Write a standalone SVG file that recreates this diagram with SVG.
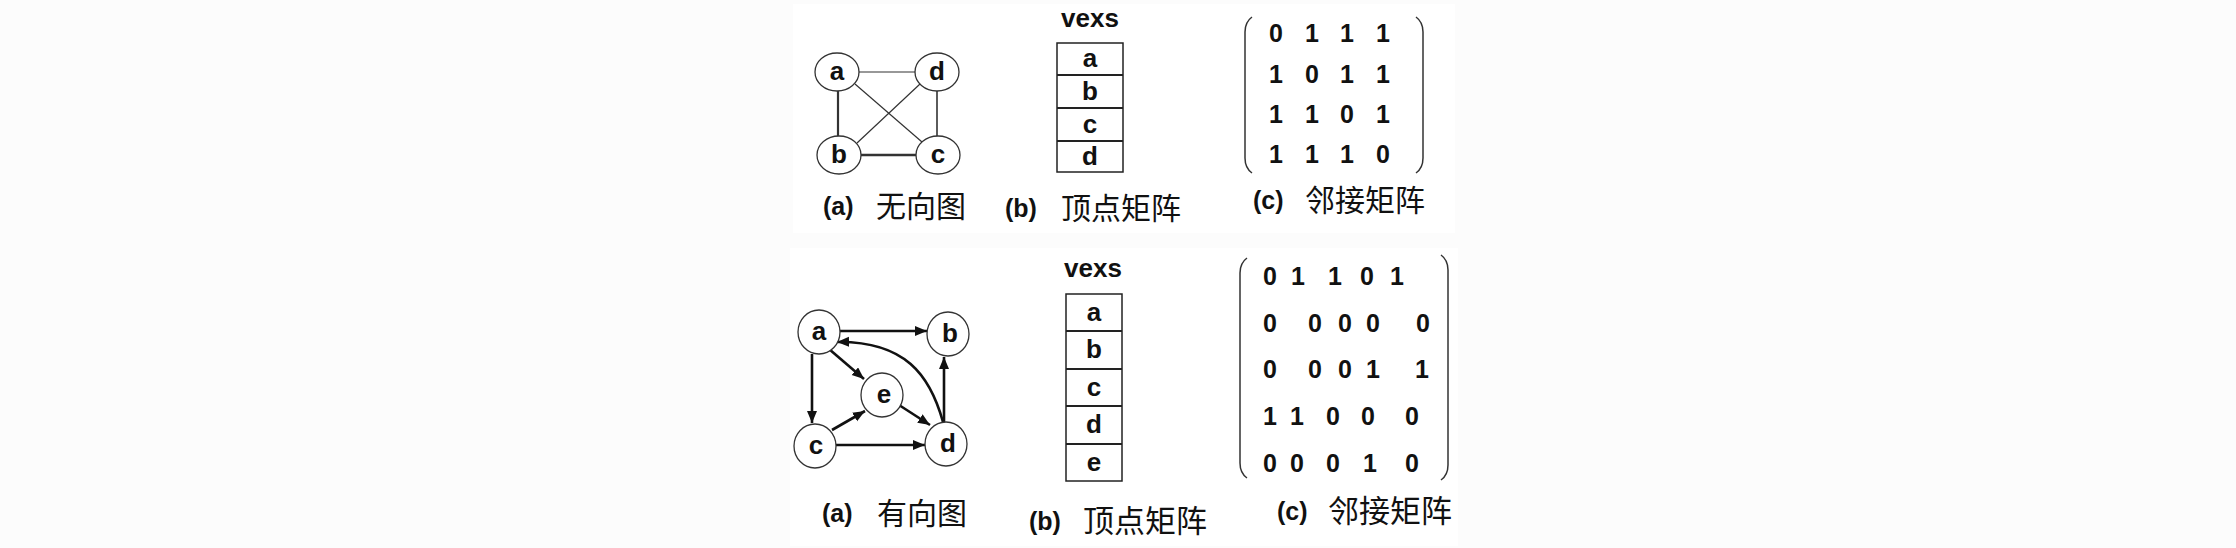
<svg xmlns="http://www.w3.org/2000/svg" width="2236" height="548" viewBox="0 0 2236 548">
<defs>
<style>
.bg{fill:#fcfcfc}
.panel{fill:#ffffff}
.node{fill:#ffffff;stroke:#333;stroke-width:1.3}
.nl{font-family:"Liberation Sans",Arial,sans-serif;font-weight:bold;font-size:26px;fill:#111;text-anchor:middle}
.dg{font-family:"Liberation Sans",Arial,sans-serif;font-weight:bold;font-size:25px;fill:#111;text-anchor:middle}
.par{font-family:"Liberation Sans",Arial,sans-serif;font-weight:bold;font-size:25px;fill:#111}
.cjk{font-family:"Noto Sans CJK SC","Noto Sans",sans-serif;font-size:30px;fill:#111}
.cell{fill:#ffffff;stroke:#222;stroke-width:1.5}
.div{stroke:#222;stroke-width:1.8}
.paren{fill:none;stroke:#333;stroke-width:1.5}
.e1{stroke:#333;fill:none}
.e2{stroke:#111;stroke-width:2.6;fill:none}
</style>
<marker id="arr" markerWidth="13" markerHeight="11" refX="12" refY="5" orient="auto" markerUnits="userSpaceOnUse">
<path d="M0,0 L12,5 L0,10 z" fill="#111"/>
</marker>
</defs>
<rect class="bg" x="0" y="0" width="2236" height="548"/>
<rect class="panel" x="793" y="4" width="662" height="229"/>
<rect class="panel" x="790" y="248" width="668" height="298"/>

<!-- Undirected graph -->
<g id="edges-undirected">
<line class="e1" x1="859" y1="72" x2="915" y2="72" stroke-width="1.2"/>
<line class="e1" x1="838" y1="91" x2="838" y2="136" stroke-width="2.2"/>
<line class="e1" x1="937" y1="91" x2="937" y2="136" stroke-width="1.6"/>
<line class="e1" x1="861" y1="155" x2="916" y2="155" stroke-width="2.4"/>
<line class="e1" x1="855" y1="84" x2="922" y2="142" stroke-width="1.2"/>
<line class="e1" x1="920" y1="84" x2="857" y2="143" stroke-width="1.2"/>
</g>
<g id="u-a"><ellipse class="node" cx="837" cy="72" rx="22" ry="19"/><text class="nl" x="837" y="80">a</text></g>
<g id="u-d"><ellipse class="node" cx="937" cy="72" rx="22" ry="19"/><text class="nl" x="937" y="80">d</text></g>
<g id="u-b"><ellipse class="node" cx="839" cy="155" rx="22" ry="19"/><text class="nl" x="839" y="163">b</text></g>
<g id="u-c"><ellipse class="node" cx="938" cy="155" rx="22" ry="19"/><text class="nl" x="938" y="163">c</text></g>

<!-- Vertex array 1 -->
<g id="vexs1">
<text class="nl" x="1090" y="27">vexs</text>
<rect class="cell" x="1057" y="43" width="66" height="129"/>
<line class="div" x1="1057" y1="75" x2="1123" y2="75"/>
<line class="div" x1="1057" y1="108" x2="1123" y2="108"/>
<line class="div" x1="1057" y1="141" x2="1123" y2="141"/>
<text class="nl" x="1090" y="67">a</text>
<text class="nl" x="1090" y="100">b</text>
<text class="nl" x="1090" y="133">c</text>
<text class="nl" x="1090" y="165">d</text>
</g>

<!-- Matrix 1 -->
<g id="matrix1">
<path class="paren" d="M1252,17 Q1245,22 1245,32 L1245,158 Q1245,168 1252,173"/>
<path class="paren" d="M1416,17 Q1423,22 1423,32 L1423,158 Q1423,168 1416,173"/>
<text class="dg" y="42"><tspan x="1276">0</tspan><tspan x="1312">1</tspan><tspan x="1347">1</tspan><tspan x="1383">1</tspan></text>
<text class="dg" y="83"><tspan x="1276">1</tspan><tspan x="1312">0</tspan><tspan x="1347">1</tspan><tspan x="1383">1</tspan></text>
<text class="dg" y="123"><tspan x="1276">1</tspan><tspan x="1312">1</tspan><tspan x="1347">0</tspan><tspan x="1383">1</tspan></text>
<text class="dg" y="163"><tspan x="1276">1</tspan><tspan x="1312">1</tspan><tspan x="1347">1</tspan><tspan x="1383">0</tspan></text>
</g>

<!-- Row 1 captions -->
<g id="cap1">
<text class="par" x="823" y="215">(a)</text><text class="cjk" x="876" y="217">无向图</text>
<text class="par" x="1005" y="217">(b)</text><text class="cjk" x="1061" y="219">顶点矩阵</text>
<text class="par" x="1253" y="209">(c)</text><text class="cjk" x="1305" y="211">邻接矩阵</text>
</g>

<!-- Directed graph -->
<g id="edges-directed">
<line class="e2" x1="840" y1="331" x2="927" y2="331" marker-end="url(#arr)"/>
<path class="e2" d="M943,422 C930,375 905,341 837,342" marker-end="url(#arr)"/>
<line class="e2" x1="829" y1="349" x2="864" y2="379" marker-end="url(#arr)"/>
<line class="e2" x1="812" y1="354" x2="812" y2="423" marker-end="url(#arr)"/>
<line class="e2" x1="832" y1="430" x2="865" y2="411" marker-end="url(#arr)"/>
<line class="e2" x1="899" y1="405" x2="930" y2="425" marker-end="url(#arr)"/>
<line class="e2" x1="836" y1="445" x2="925" y2="445" marker-end="url(#arr)"/>
<line class="e2" x1="944" y1="422" x2="944" y2="357" marker-end="url(#arr)"/>
</g>
<g id="d-a"><ellipse class="node" cx="819" cy="332" rx="21" ry="22"/><text class="nl" x="819" y="340">a</text></g>
<g id="d-b"><ellipse class="node" cx="948" cy="334" rx="21" ry="22"/><text class="nl" x="950" y="342">b</text></g>
<g id="d-e"><ellipse class="node" cx="882" cy="395" rx="21" ry="22"/><text class="nl" x="884" y="403">e</text></g>
<g id="d-c"><ellipse class="node" cx="815" cy="446" rx="21" ry="22"/><text class="nl" x="816" y="454">c</text></g>
<g id="d-d"><ellipse class="node" cx="946" cy="444" rx="21" ry="22"/><text class="nl" x="948" y="452">d</text></g>

<!-- Vertex array 2 -->
<g id="vexs2">
<text class="nl" x="1093" y="277">vexs</text>
<rect class="cell" x="1066" y="294" width="56" height="187"/>
<line class="div" x1="1066" y1="331" x2="1122" y2="331"/>
<line class="div" x1="1066" y1="369" x2="1122" y2="369" stroke-width="1"/>
<line class="div" x1="1066" y1="406" x2="1122" y2="406"/>
<line class="div" x1="1066" y1="444" x2="1122" y2="444"/>
<text class="nl" x="1094" y="321">a</text>
<text class="nl" x="1094" y="358">b</text>
<text class="nl" x="1094" y="396">c</text>
<text class="nl" x="1094" y="433">d</text>
<text class="nl" x="1094" y="471">e</text>
</g>

<!-- Matrix 2 -->
<g id="matrix2">
<path class="paren" d="M1247,258 Q1240,263 1240,273 L1240,463 Q1240,473 1247,478"/>
<path class="paren" d="M1441,255 Q1448,260 1448,270 L1448,465 Q1448,475 1441,480"/>
<text class="dg" y="285"><tspan x="1270">0</tspan><tspan x="1298">1</tspan><tspan x="1335">1</tspan><tspan x="1367">0</tspan><tspan x="1397">1</tspan></text>
<text class="dg" y="332"><tspan x="1270">0</tspan><tspan x="1315">0</tspan><tspan x="1345">0</tspan><tspan x="1373">0</tspan><tspan x="1423">0</tspan></text>
<text class="dg" y="378"><tspan x="1270">0</tspan><tspan x="1315">0</tspan><tspan x="1345">0</tspan><tspan x="1373">1</tspan><tspan x="1422">1</tspan></text>
<text class="dg" y="425"><tspan x="1270">1</tspan><tspan x="1297">1</tspan><tspan x="1333">0</tspan><tspan x="1368">0</tspan><tspan x="1412">0</tspan></text>
<text class="dg" y="472"><tspan x="1270">0</tspan><tspan x="1297">0</tspan><tspan x="1333">0</tspan><tspan x="1370">1</tspan><tspan x="1412">0</tspan></text>
</g>

<!-- Row 2 captions -->
<g id="cap2">
<text class="par" x="822" y="522">(a)</text><text class="cjk" x="877" y="524">有向图</text>
<text class="par" x="1029" y="530">(b)</text><text class="cjk" x="1083" y="532" style="font-size:31px">顶点矩阵</text>
<text class="par" x="1277" y="520">(c)</text><text class="cjk" x="1328" y="522" style="font-size:31px">邻接矩阵</text>
</g>
</svg>
